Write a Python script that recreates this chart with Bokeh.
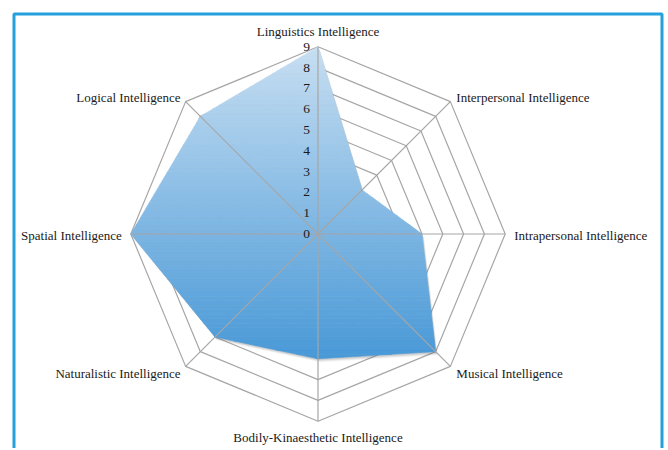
import math
from bokeh.plotting import figure
from bokeh.models import Range1d
from bokeh.core.properties import value
from bokeh.embed import file_html
from bokeh.resources import INLINE

# ---- data ----
categories = ["Linguistics Intelligence", "Interpersonal Intelligence",
              "Intrapersonal Intelligence", "Musical Intelligence",
              "Bodily-Kinaesthetic Intelligence", "Naturalistic Intelligence",
              "Spatial Intelligence", "Logical Intelligence"]
scores = [9, 3, 5, 8, 6, 7, 9, 8]
tick_values = [0, 1, 2, 3, 4, 5, 6, 7, 8, 9]
tick_labels = [str(t) for t in tick_values]

# ---- layout (pixel) ----
W, H = 666, 448
PAGE = 0
CX, CY = 317.5, 233.5      # radar centre on page
U = 20.8                   # pixels per unit
FONT = "Liberation Serif"
GRID = "#a6a6a6"

x0 = (PAGE - CX) / U
x1 = (PAGE + W - CX) / U
y1 = (CY - PAGE) / U
y0 = (CY - PAGE - H) / U

p = figure(width=W, height=H, output_backend="svg", toolbar_location=None,
           x_range=Range1d(x0, x1), y_range=Range1d(y0, y1),
           min_border=0, min_border_left=0, min_border_right=0,
           min_border_top=0, min_border_bottom=0)
p.axis.visible = False
p.grid.visible = False
p.outline_line_color = None
p.background_fill_color = "white"
p.border_fill_color = "white"

n = len(categories)
angles = [math.pi / 2 - i * 2 * math.pi / n for i in range(n)]
rmax = max(tick_values)

# rings
for t in tick_values[1:]:
    xs = [t * math.cos(a) for a in angles] + [t * math.cos(angles[0])]
    ys = [t * math.sin(a) for a in angles] + [t * math.sin(angles[0])]
    p.line(xs, ys, line_color=GRID, line_width=1.2)

# data polygon
px = [v * math.cos(a) for v, a in zip(scores, angles)]
py = [v * math.sin(a) for v, a in zip(scores, angles)]

# soft shadow
for k, al in [(3.5, 0.08), (2.5, 0.12), (1.5, 0.15)]:
    p.patch([x + 0.6 * k / U for x in px], [y - k / U for y in py],
            fill_color="#606060", fill_alpha=al, line_color=None)


def clip(poly, yc, keep_above):
    out = []
    m = len(poly)
    for i in range(m):
        cur = poly[i]
        prv = poly[i - 1]
        cin = cur[1] >= yc if keep_above else cur[1] <= yc
        pin = prv[1] >= yc if keep_above else prv[1] <= yc
        if cin:
            if not pin:
                t = (yc - prv[1]) / (cur[1] - prv[1])
                out.append((prv[0] + t * (cur[0] - prv[0]), yc))
            out.append(cur)
        elif pin:
            t = (yc - prv[1]) / (cur[1] - prv[1])
            out.append((prv[0] + t * (cur[0] - prv[0]), yc))
    return out


poly = list(zip(px, py))
ytop, ybot = max(py), min(py)
top_rgb = (199, 222, 242)
bot_rgb = (72, 153, 215)
NB = 70
for b in range(NB):
    ya = ybot + (ytop - ybot) * b / NB
    yb = ybot + (ytop - ybot) * (b + 1) / NB
    piece = clip(clip(poly, ya, True), yb, False)
    if len(piece) < 3:
        continue
    f = (b + 0.5) / NB
    c = tuple(int(round(bot_rgb[j] + (top_rgb[j] - bot_rgb[j]) * f)) for j in range(3))
    col = "#%02x%02x%02x" % c
    p.patch([q[0] for q in piece], [q[1] for q in piece],
            fill_color=col, line_color=col, line_width=0.6)

# spokes
for a in angles:
    p.line([0, rmax * math.cos(a)], [0, rmax * math.sin(a)],
           line_color=GRID, line_width=1.2)

# tick labels
p.text(x=[0] * len(tick_values), y=tick_values, text=tick_labels,
       text_font=value(FONT), text_font_size="13.5px", text_color="#1a1a1a",
       text_align="right", text_baseline="middle", x_offset=-8, y_offset=0)

# category labels
offs = [(0, -15, "center"), (6, -4, "left"), (9, 1, "left"), (6, 7, "left"),
        (0, 16, "center"), (-5, 7, "right"), (-9, 1, "right"), (-5, -4, "right")]
for cat, a, (dx, dy, al) in zip(categories, angles, offs):
    p.text(x=[rmax * math.cos(a)], y=[rmax * math.sin(a)], text=[cat],
           text_font=value(FONT), text_font_size="13px", text_color="#1a1a1a",
           text_align=al, text_baseline="middle", x_offset=dx, y_offset=dy)

# outer blue frame
fl = (13.5 - CX) / U
fr = (661.5 - CX) / U
ft = (CY - 13.5) / U
fb = y0 - 1
p.line([fl, fl, fr, fr], [fb, ft, ft, fb], line_color="#24a0dd", line_width=3)

open("out.html", "w").write(file_html(p, INLINE))
